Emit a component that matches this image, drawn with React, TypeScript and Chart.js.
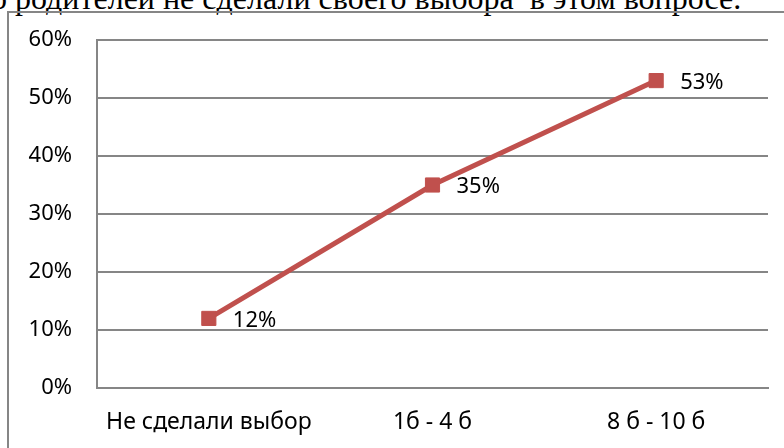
import React, { useEffect, useRef } from "react";
import { Chart, registerables } from "chart.js";

Chart.register(...registerables);

const categories = ["Не сделали выбор", "1б - 4 б", "8 б - 10 б"];
const values = [12, 35, 53];
const yTicks = [0, 10, 20, 30, 40, 50, 60];
const captionText = "о родителей не сделали своего выбора  в этом вопросе.";

const FONT = "'Noto Sans', 'Open Sans', sans-serif";

export default function App() {
  const ref = useRef<HTMLCanvasElement | null>(null);

  useEffect(() => {
    if (!ref.current) return;
    const labelPlugin = {
      id: "pointLabels",
      afterDatasetsDraw(chart: any) {
        const ctx = chart.ctx;
        const meta = chart.getDatasetMeta(0);
        ctx.save();
        ctx.font = `22px ${FONT}`;
        ctx.fillStyle = "#000";
        ctx.textAlign = "left";
        ctx.textBaseline = "middle";
        meta.data.forEach((pt: any, i: number) => {
          ctx.fillText(`${values[i]}%`, pt.x + 24, pt.y + 2);
        });
        ctx.restore();
      },
    };
    const chart = new Chart(ref.current, {
      type: "line",
      data: {
        labels: categories,
        datasets: [
          {
            data: values,
            borderColor: "#C0504D",
            backgroundColor: "#C0504D",
            borderWidth: 5,
            pointStyle: "rect",
            pointRadius: 10,
            pointBorderWidth: 1,
            pointBorderColor: "#C0504D",
            pointBackgroundColor: "#C0504D",
            tension: 0,
          },
        ],
      },
      options: {
        responsive: false,
        animation: false,
        events: [],
        layout: { padding: { left: 0, top: 40, right: 16, bottom: 0 } },
        plugins: { legend: { display: false }, tooltip: { enabled: false } },
        scales: {
          x: {
            offset: true,
            grid: { display: false, drawTicks: false },
            border: { display: true, color: "#868686", width: 2 },
            ticks: { color: "#000", font: { family: FONT, size: 23 }, padding: 21, maxRotation: 0 },
            afterFit: (s: any) => { s.height = 60; },
          },
          y: {
            min: 0,
            max: 60,
            afterBuildTicks: (s: any) => { s.ticks = yTicks.map((v) => ({ value: v })); },
            grid: { color: "#868686", lineWidth: 2, drawTicks: false },
            border: { display: true, color: "#868686", width: 2 },
            ticks: {
              color: "#000",
              font: { family: FONT, size: 22 },
              padding: 25,
              callback: (v: any) => `${v}%`,
            },
            afterFit: (s: any) => { s.width = 97; },
          },
        },
      },
      plugins: [labelPlugin],
    });
    return () => chart.destroy();
  }, []);

  return (
    <div style={{ position: "fixed", left: 0, top: 0, width: 784, height: 448, overflow: "hidden", background: "#fff" }}>
      <div
        style={{
          position: "absolute",
          left: -9,
          top: -22,
          fontFamily: "'Liberation Serif', 'Times New Roman', serif",
          fontSize: 32,
          whiteSpace: "pre",
          color: "#000",
          lineHeight: "40px",
        }}
      >
        {captionText}
      </div>
      <div
        style={{
          position: "absolute",
          left: 7,
          top: 11,
          width: 820,
          height: 460,
          border: "2px solid #868686",
          boxSizing: "border-box",
        }}
      />
      <canvas ref={ref} width={784} height={448} style={{ position: "absolute", left: 0, top: 0 }} />
    </div>
  );
}
